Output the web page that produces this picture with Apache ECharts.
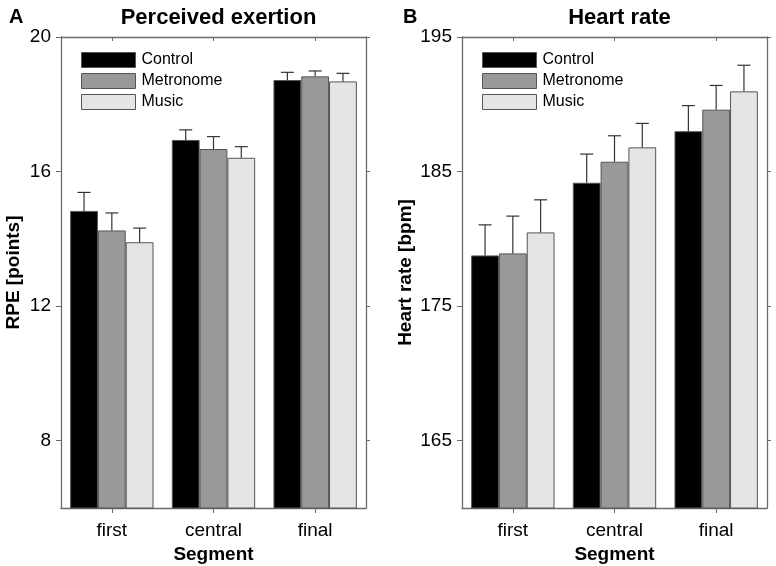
<!DOCTYPE html>
<html>
<head>
<meta charset="utf-8">
<script src="https://cdn.jsdelivr.net/npm/echarts@6/dist/echarts.min.js"></script>
<style>
html,body{margin:0;padding:0;background:#fff;}
#chart{width:776px;height:566px;}
</style>
</head>
<body>
<div id="chart"></div>
<script>
// ---- data ----
var segments = ['first', 'central', 'final'];
var seriesNames = ['Control', 'Metronome', 'Music'];

var rpeControl = [14.83, 16.94, 18.72];
var rpeMetronome = [14.25, 16.67, 18.83];
var rpeMusic = [13.90, 16.41, 18.68];
var rpeControlErr = [0.55, 0.30, 0.23];
var rpeMetronomeErr = [0.52, 0.37, 0.16];
var rpeMusicErr = [0.42, 0.33, 0.24];

var hrControl = [178.77, 184.17, 188.0];
var hrMetronome = [178.92, 185.73, 189.6];
var hrMusic = [180.48, 186.8, 190.96];
var hrControlErr = [2.27, 2.13, 1.9];
var hrMetronomeErr = [2.77, 1.93, 1.8];
var hrMusicErr = [2.42, 1.78, 1.94];

var rpeTicks = [8, 12, 16, 20];
var hrTicks = [165, 175, 185, 195];

// ---- styling ----
var colors = ['#000000', '#999999', '#e5e5e5'];
var axisColor = '#6a6a6a';
var FONT = '"Liberation Sans", Arial, sans-serif';
var CAT_GAP = 0.18;

var chart = echarts.init(document.getElementById('chart'), null, {renderer: 'canvas'});

function errSeries(gridIdx, seriesIdx, means, errs) {
  var data = means.map(function (m, i) { return [i, m, m + errs[i]]; });
  return {
    type: 'custom',
    xAxisIndex: gridIdx * 2,
    yAxisIndex: gridIdx * 2,
    z: 5,
    silent: true,
    data: data,
    renderItem: function (params, api) {
      var catW = api.size([1, 0])[0];
      var barW = catW * (1 - CAT_GAP) / 3;
      var base = api.coord([api.value(0), api.value(1)]);
      var top = api.coord([api.value(0), api.value(2)]);
      var x = base[0] + (seriesIdx - 1) * barW;
      var capHalf = 6.5;
      return {
        type: 'group',
        children: [
          {type: 'line', shape: {x1: x, y1: base[1], x2: x, y2: top[1]},
           style: {stroke: '#333', lineWidth: 1.2}},
          {type: 'line', shape: {x1: x - capHalf, y1: top[1], x2: x + capHalf, y2: top[1]},
           style: {stroke: '#333', lineWidth: 1.2}}
        ]
      };
    }
  };
}

function barSeries(gridIdx, idx, vals) {
  return {
    name: seriesNames[idx],
    type: 'bar',
    xAxisIndex: gridIdx * 2,
    yAxisIndex: gridIdx * 2,
    data: vals,
    barGap: '0%',
    barCategoryGap: (CAT_GAP * 100) + '%',
    itemStyle: {color: colors[idx], borderColor: '#555', borderWidth: 1},
    z: 2
  };
}

function xAxes(gridIdx) {
  return [
    {
      type: 'category', gridIndex: gridIdx, data: segments, position: 'bottom',
      boundaryGap: true,
      axisLine: {show: true, lineStyle: {color: axisColor, width: 1.3}},
      axisTick: {show: true, alignWithLabel: true, length: 5, lineStyle: {color: axisColor}},
      axisLabel: {color: '#000', fontSize: 19, fontFamily: FONT, margin: 13},
      name: 'Segment', nameLocation: 'middle', nameGap: 31,
      nameTextStyle: {color: '#000', fontSize: 19, fontWeight: 'bold', fontFamily: FONT}
    },
    {
      type: 'category', gridIndex: gridIdx, data: segments, position: 'top',
      boundaryGap: true,
      axisLine: {show: true, lineStyle: {color: axisColor, width: 1.3}},
      axisTick: {show: true, alignWithLabel: true, inside: true, length: 4, lineStyle: {color: axisColor}},
      axisLabel: {show: false}
    }
  ];
}

function yAxes(gridIdx, min, max, ticks, name, gap) {
  return [
    {
      type: 'value', gridIndex: gridIdx, min: min, max: max, position: 'left',
      splitLine: {show: false},
      axisLine: {show: true, lineStyle: {color: axisColor, width: 1.3}},
      axisTick: {show: true, length: 5, customValues: ticks, lineStyle: {color: axisColor}},
      axisLabel: {color: '#000', fontSize: 19, fontFamily: FONT, margin: 10, customValues: ticks},
      name: name, nameLocation: 'middle', nameGap: gap, nameRotate: 90,
      nameTextStyle: {color: '#000', fontSize: 19, fontWeight: 'bold', fontFamily: FONT}
    },
    {
      type: 'value', gridIndex: gridIdx, min: min, max: max, position: 'right',
      splitLine: {show: false},
      axisLine: {show: true, lineStyle: {color: axisColor, width: 1.3}},
      axisTick: {show: true, length: 4, customValues: ticks, lineStyle: {color: axisColor}},
      axisLabel: {show: false}
    }
  ];
}

function legend(left) {
  return {
    orient: 'vertical', left: left, top: 52, padding: 0,
    itemWidth: 54, itemHeight: 15, itemGap: 5,
    icon: 'rect',
    data: seriesNames,
    selectedMode: false,
    textStyle: {color: '#000', fontSize: 16, fontFamily: FONT, lineHeight: 15, padding: [0, 0, 0, 1]},
    itemStyle: {borderColor: '#555', borderWidth: 1}
  };
}

var option = {
  animation: false,
  backgroundColor: '#fff',
  title: [
    {text: 'Perceived exertion', left: 213.5, textAlign: 'center', top: 2,
     textStyle: {fontSize: 22, fontWeight: 'bold', fontFamily: FONT, color: '#000'}},
    {text: 'Heart rate', left: 614.5, textAlign: 'center', top: 2,
     textStyle: {fontSize: 22, fontWeight: 'bold', fontFamily: FONT, color: '#000'}},
    {text: 'A', left: 4, top: 2,
     textStyle: {fontSize: 20, fontWeight: 'bold', fontFamily: FONT, color: '#000'}},
    {text: 'B', left: 398, top: 2,
     textStyle: {fontSize: 20, fontWeight: 'bold', fontFamily: FONT, color: '#000'}}
  ],
  legend: [legend(81), legend(482)],
  grid: [
    {left: 61, right: 776 - 366, top: 37, bottom: 566 - 508, outerBoundsMode: 'none', containLabel: false},
    {left: 462, right: 776 - 767, top: 37, bottom: 566 - 508, outerBoundsMode: 'none', containLabel: false}
  ],
  xAxis: xAxes(0).concat(xAxes(1)),
  yAxis: yAxes(0, 6, 20, rpeTicks, 'RPE [points]', 38).concat(yAxes(1, 160, 195, hrTicks, 'Heart rate [bpm]', 47)),
  series: [
    barSeries(0, 0, rpeControl),
    barSeries(0, 1, rpeMetronome),
    barSeries(0, 2, rpeMusic),
    errSeries(0, 0, rpeControl, rpeControlErr),
    errSeries(0, 1, rpeMetronome, rpeMetronomeErr),
    errSeries(0, 2, rpeMusic, rpeMusicErr),
    barSeries(1, 0, hrControl),
    barSeries(1, 1, hrMetronome),
    barSeries(1, 2, hrMusic),
    errSeries(1, 0, hrControl, hrControlErr),
    errSeries(1, 1, hrMetronome, hrMetronomeErr),
    errSeries(1, 2, hrMusic, hrMusicErr)
  ]
};
chart.setOption(option);
</script>
</body>
</html>
